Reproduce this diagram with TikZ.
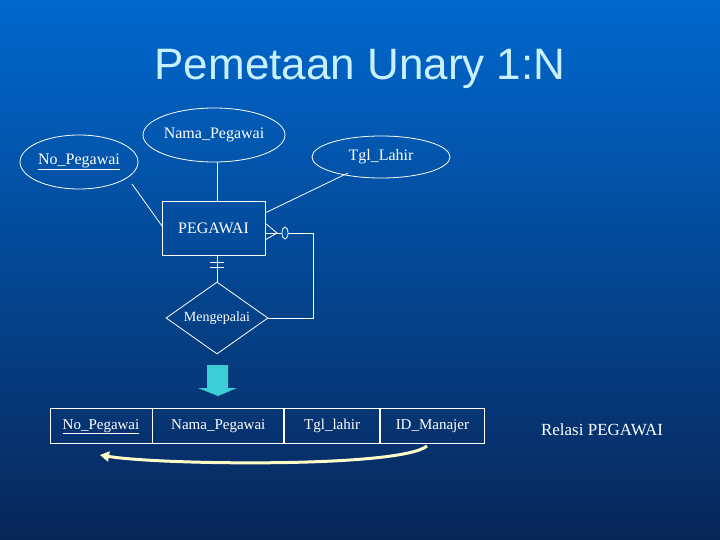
\documentclass[tikz,border=0pt]{standalone}
\usepackage{fontspec}
\setmainfont{Liberation Serif}
\newfontfamily\titlefont{Liberation Sans}
\usetikzlibrary{shapes.geometric,arrows.meta}
\definecolor{bgtop}{RGB}{0,104,206}
\definecolor{bgbot}{RGB}{8,38,88}
\definecolor{titlec}{RGB}{200,240,255}
\definecolor{arrowc}{RGB}{60,205,215}
\definecolor{curvec}{RGB}{255,255,200}
\begin{document}
\begin{tikzpicture}[x=1pt,y=-1pt,
  ln/.style={draw=white,line width=0.8pt},
  attr/.style={ellipse,draw=white,line width=0.8pt,text=white,font=\fontsize{16}{18}\selectfont,inner sep=0pt},
  cell/.style={draw=white,line width=0.8pt,text=white,font=\fontsize{15}{17}\selectfont,minimum height=35pt,inner sep=0pt,text height=11pt,text depth=4pt}]
\useasboundingbox (0,0) rectangle (720,540);
\shade[top color=bgtop,bottom color=bgbot] (0,0) rectangle (720,540);
% title
\node (title) [text=titlec,font=\titlefont\fontsize{44}{48}\selectfont] at (360,69) {Pemetaan Unary 1:N};
% attributes
\node (nop) [attr,minimum width=118pt,minimum height=54pt] at (79,162) {\underline{No\_Pegawai}};
\node (nama) [attr,minimum width=138pt,minimum height=54pt] at (214,135) {Nama\_Pegawai};
\node (tgl) [attr,minimum width=138pt,minimum height=42pt] at (381,157) {Tgl\_Lahir};
% entity
\node (peg) [draw=white,line width=0.8pt,text=white,minimum width=103pt,minimum height=54pt,inner sep=0pt,font=\fontsize{16}{18}\selectfont] at (213.5,228) {PEGAWAI};
% relationship
\node (rel) [diamond,draw=white,line width=0.8pt,text=white,minimum width=102pt,minimum height=72pt,inner sep=0pt,aspect=1.4,font=\fontsize{14}{16}\selectfont] at (217,318) {Mengepalai};
% attribute lines
\coordinate (namab) at (217,162);
\coordinate (pegt) at (217,201);
\draw[ln] (namab) -- (pegt);
\coordinate (nopa) at (132,184);
\coordinate (pegl) at (162,226);
\draw[ln] (nopa) -- (pegl);
\coordinate (tgla) at (348,173);
\coordinate (pegtr) at (265,213);
\draw[ln] (tgla) -- (pegtr);
% one side
\coordinate (pegb) at (217,255);
\draw[ln] (pegb) -- (rel.north);
\draw[ln] (210,262) -- (224,262);
\draw[ln] (210,267) -- (224,267);
% many side
\coordinate (cf) at (277,233);
\coordinate (corner1) at (313,233);
\coordinate (corner2) at (313,318);
\draw[ln] (265,223) -- (cf) -- (265,240);
\draw[ln] (265,233) -- (corner1) -- (corner2) -- (rel.east);
\draw[ln,fill=bgtop!70!bgbot] (285,233) ellipse (3pt and 6pt);
% block arrow
\fill[arrowc] (207,365) -- (228,365) -- (228,388) -- (237,388) -- (218,396) -- (198,388) -- (207,388) -- cycle;
% table
\node (c1) [cell,minimum width=102pt] at (101,425.5) {\underline{No\_Pegawai}};
\node (c2) [cell,minimum width=131pt,anchor=west] at (c1.east) {Nama\_Pegawai};
\node (c3) [cell,minimum width=95pt,anchor=west] at (c2.east) {Tgl\_lahir};
\node (c4) [cell,minimum width=104pt,anchor=west] at (c3.east) {ID\_Manajer};
% curved arrow
\coordinate (from) at (427,446);
\coordinate (to) at (100,455);
\draw[curvec,line width=3pt,-{Triangle[length=9pt,width=10pt]}] (from) .. controls (400,468) and (160,465) .. (to);
% label
\node (relasi) [text=white,font=\fontsize{17}{19}\selectfont] at (602,430) {Relasi PEGAWAI};
\end{tikzpicture}
\end{document}
